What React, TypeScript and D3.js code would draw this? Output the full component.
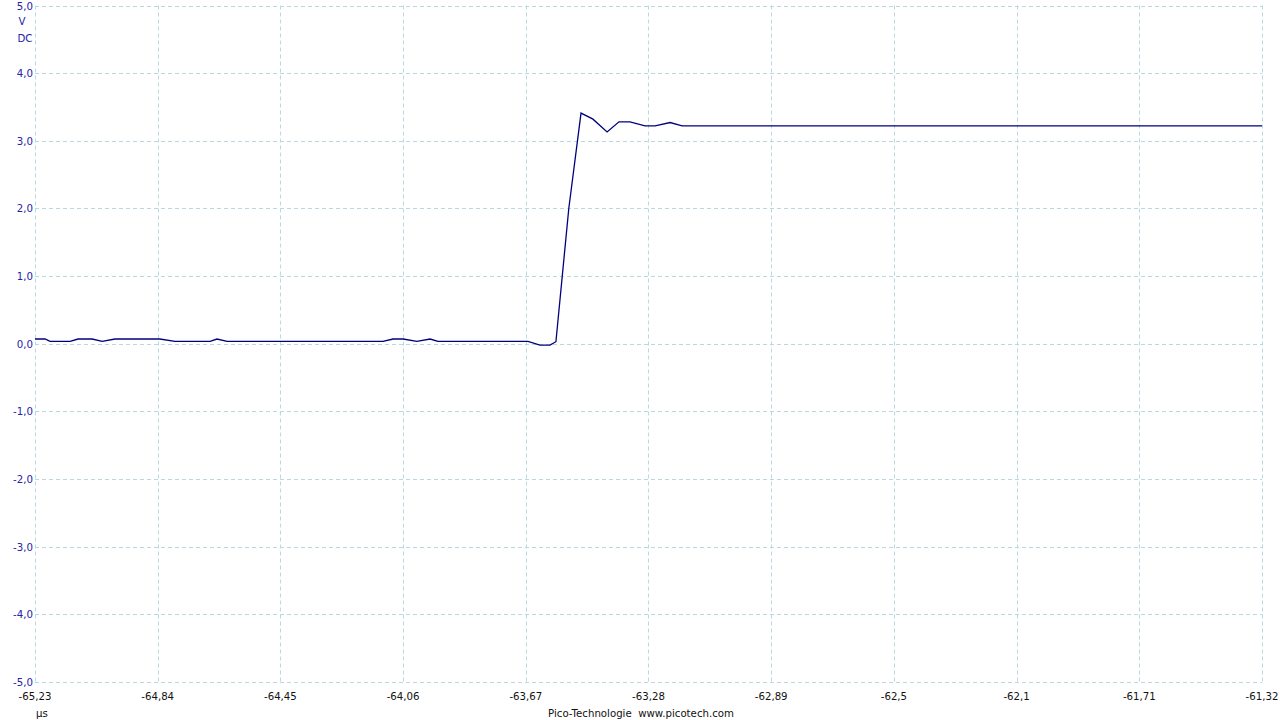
import React from "react";
import * as d3 from "d3";

// Time axis (µs) and voltage axis
const xDomain: [number, number] = [-65.23, -61.32];
const xTickLabels = ["-65,23", "-64,84", "-64,45", "-64,06", "-63,67", "-63,28", "-62,89", "-62,5", "-62,1", "-61,71", "-61,32"];
const yTickValues = [5, 4, 3, 2, 1, 0, -1, -2, -3, -4, -5];
const yTickLabels = ["5,0", "4,0", "3,0", "2,0", "1,0", "0,0", "-1,0", "-2,0", "-3,0", "-4,0", "-5,0"];

// Trace vertices: time (µs) and voltage (V)
const times = [
  -65.23, -65.198, -65.182, -65.118, -65.093, -65.048, -65.016, -64.975, -64.832, -64.784,
  -64.672, -64.65, -64.618, -64.121, -64.089, -64.057, -64.013, -63.971, -63.946, -63.659,
  -63.621, -63.589, -63.57, -63.529, -63.49, -63.452, -63.407, -63.369, -63.334, -63.286,
  -63.254, -63.206, -63.168, -61.32,
];
const volts = [
  0.07, 0.07, 0.035, 0.035, 0.07, 0.07, 0.035, 0.07, 0.07, 0.035,
  0.035, 0.07, 0.035, 0.035, 0.07, 0.07, 0.035, 0.07, 0.035, 0.035,
  -0.02, -0.02, 0.03, 2.0, 3.41, 3.32, 3.13, 3.28, 3.28, 3.22,
  3.22, 3.27, 3.22, 3.22,
];

const W = 1280;
const H = 720;
const left = 35;
const right = 1262;
const top = 5.5;
const bottom = 682;

const font = "'DejaVu Sans', 'Liberation Sans', sans-serif";
const fs = 10.2;

export default function App() {
  const x = d3.scaleLinear().domain(xDomain).range([left, right]);
  const y = d3.scaleLinear().domain([-5, 5]).range([bottom, top]);
  const xTickValues = d3.range(11).map((i) => xDomain[0] + (i * (xDomain[1] - xDomain[0])) / 10);
  const line = d3
    .line<number>()
    .x((_, i) => x(times[i]))
    .y((v) => y(v));
  const gridColor = "#b9d9de";
  const dash = "4,3";

  return (
    <svg
      width={W}
      height={H}
      style={{ position: "absolute", left: 0, top: 0, background: "#fff" }}
      fontFamily={font}
    >
      <rect x={0} y={0} width={W} height={H} fill="#fff" />
      {yTickValues.map((v) => (
        <line
          key={"h" + v}
          x1={left}
          x2={right}
          y1={Math.round(y(v)) + 0.5}
          y2={Math.round(y(v)) + 0.5}
          stroke={gridColor}
          strokeWidth={1}
          strokeDasharray={dash}
        />
      ))}
      {xTickValues.map((t, i) => (
        <line
          key={"v" + i}
          x1={Math.round(x(t)) + 0.5}
          x2={Math.round(x(t)) + 0.5}
          y1={top}
          y2={bottom}
          stroke={gridColor}
          strokeWidth={1}
          strokeDasharray={dash}
        />
      ))}
      <path d={line(volts) || ""} fill="none" stroke="#00007f" strokeWidth={1.3} strokeLinejoin="miter" />
      {yTickValues.map((v, i) => (
        <text
          key={"yl" + i}
          x={33}
          y={y(v) + 4}
          textAnchor="end"
          fontSize={fs}
          fill="#2323a8"
        >
          {yTickLabels[i]}
        </text>
      ))}
      <text x={22} y={25} textAnchor="middle" fontSize={fs} fill="#2323a8">V</text>
      <text x={25} y={42} textAnchor="middle" fontSize={fs} fill="#2323a8">DC</text>
      {xTickValues.map((t, i) => (
        <text
          key={"xl" + i}
          x={x(t)}
          y={700}
          textAnchor="middle"
          fontSize={fs}
          fill="#111"
        >
          {xTickLabels[i]}
        </text>
      ))}
      <text x={42} y={717} textAnchor="middle" fontSize={fs} fill="#111">µs</text>
      <text x={641} y={717} textAnchor="middle" fontSize={fs} fill="#111" xmlSpace="preserve">
        Pico-Technologie  www.picotech.com
      </text>
    </svg>
  );
}
